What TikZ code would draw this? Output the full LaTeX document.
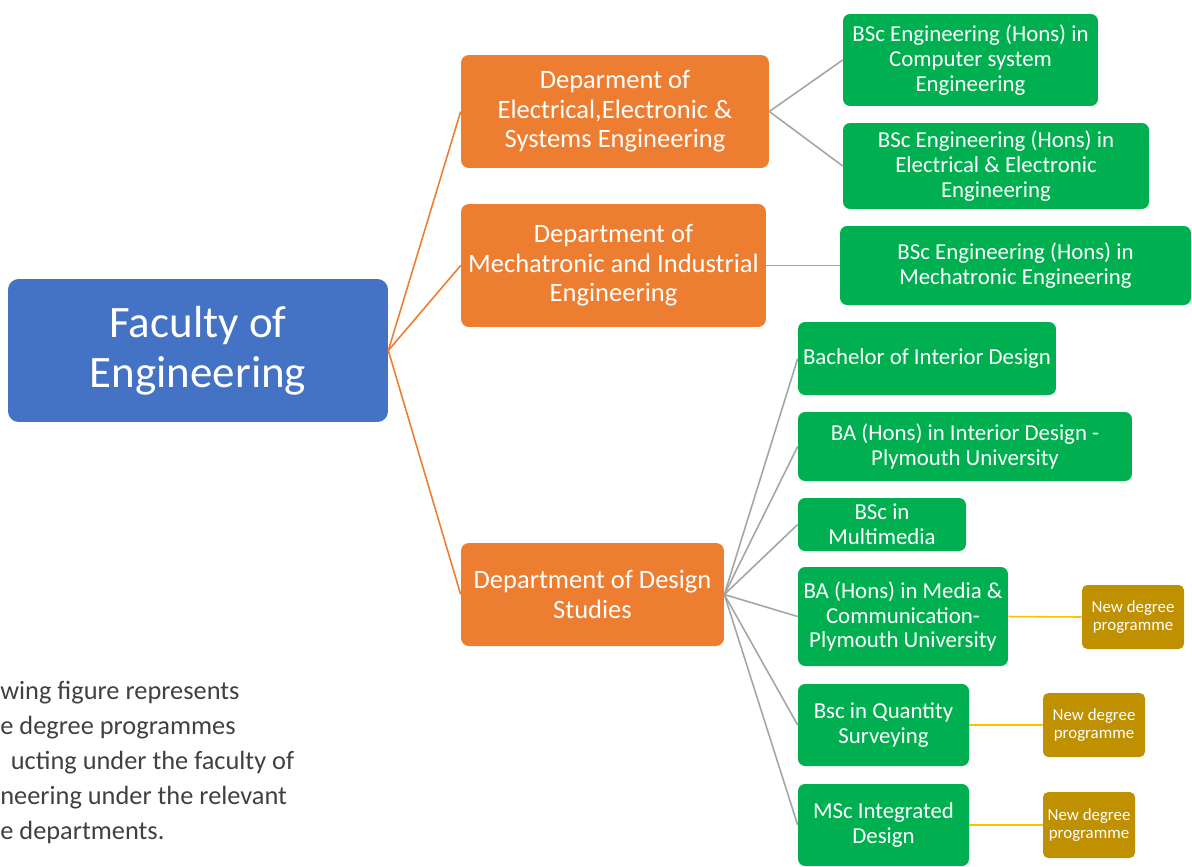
\documentclass[tikz,border=0pt]{standalone}
\usepackage{fontspec}
\setmainfont{Carlito}
\usetikzlibrary{arrows.meta}
\definecolor{FacBlue}{HTML}{4472C4}
\definecolor{DeptOrange}{HTML}{ED7D31}
\definecolor{ProgGreen}{HTML}{00B050}
\definecolor{NewGold}{HTML}{BF9000}
\definecolor{LineGold}{HTML}{FFC000}
\definecolor{LineGrey}{HTML}{A5A5A5}
\definecolor{TextGrey}{HTML}{404040}

\begin{document}
\begin{tikzpicture}[x=0.02cm, y=-0.02cm,
      every node/.append style={text=white, align=center, inner sep=1pt},
      faculty/.style={fill=FacBlue, rounded corners=6pt, minimum width=7.6cm, minimum height=2.86cm,
        font=\fontsize{25.6}{28.5}\selectfont},
      dept/.style={fill=DeptOrange, rounded corners=4.5pt, font=\fontsize{15.1}{16.8}\selectfont},
      prog/.style={fill=ProgGreen, rounded corners=4pt, font=\fontsize{13}{14.2}\selectfont},
      newprog/.style={fill=NewGold, rounded corners=3pt, minimum width=2.04cm, minimum height=1.28cm,
        font=\fontsize{9.6}{10.2}\selectfont},
      tofaculty/.style={draw=DeptOrange, line width=0.9pt},
      todept/.style={draw=LineGrey, line width=0.9pt},
      tonew/.style={draw=LineGold, line width=0.9pt}]
    \useasboundingbox (0,0) rectangle (1192,866);

    \node (FACULTY) [faculty] at (198,350.5) {Faculty of\\Engineering};

    \node (EEE) [dept, minimum width=6.16cm, minimum height=2.26cm] at (615,111.5)
      {Deparment of\\Electrical,Electronic \&\\Systems Engineering};
    \node (Mech) [dept, minimum width=6.1cm, minimum height=2.46cm] at (613.5,265.5)
      {Department of\\Mechatronic and Industrial\\Engineering};
    \node (Design) [dept, minimum width=5.26cm, minimum height=2.06cm] at (592.5,594.5)
      {Department of Design\\Studies};

    \node (CompSys) [prog, minimum width=5.1cm, minimum height=1.84cm] at (970.5,60)
      {BSc Engineering (Hons) in\\Computer system\\Engineering};
    \node (ElecEng) [prog, minimum width=6.12cm, minimum height=1.72cm] at (996,166)
      {BSc Engineering (Hons) in\\Electrical \& Electronic\\Engineering};
    \node (MechEng) [prog, minimum width=7.02cm, minimum height=1.58cm] at (1015.5,265.5)
      {BSc Engineering (Hons) in\\Mechatronic Engineering};
    \node (Interior) [prog, minimum width=5.16cm, minimum height=1.46cm] at (927,358.5)
      {Bachelor of Interior Design};
    \node (BAInterior) [prog, minimum width=6.68cm, minimum height=1.38cm] at (965,446.5)
      {BA (Hons) in Interior Design -\\Plymouth University};
    \node (Multimedia) [prog, minimum width=3.36cm, minimum height=1.06cm] at (882,524.5)
      {BSc in\\Multimedia};
    \node (Media) [prog, minimum width=4.2cm, minimum height=1.98cm] at (903,616.5)
      {BA (Hons) in Media \&\\Communication-\\Plymouth University};
    \node (Quantity) [prog, minimum width=3.42cm, minimum height=1.64cm] at (883.5,725)
      {Bsc in Quantity\\Surveying};
    \node (MScDesign) [prog, minimum width=3.42cm, minimum height=1.64cm] at (883.5,825)
      {MSc Integrated\\Design};

    \node (NewMedia) [newprog] at (1133,617) {New degree\\programme};
    \node (NewQuantity) [newprog] at (1094,725) {New degree\\programme};
    \node (NewDesign) [newprog, minimum width=1.84cm, minimum height=1.32cm] at (1089,825) {New degree\\programme};

    % faculty to departments
    \foreach \d in {EEE, Mech, Design}
      \draw [tofaculty] (FACULTY.east) -- (\d.west);
    % departments to programmes
    \draw [todept] (EEE.east) -- (CompSys.west);
    \draw [todept] (EEE.east) -- (ElecEng.west);
    \draw [todept] (Mech.east) -- (MechEng.west);
    \foreach \p in {Interior, BAInterior, Multimedia, Media, Quantity, MScDesign}
      \draw [todept] (Design.east) -- (\p.west);
    % new programmes
    \draw [tonew] (Media.east) -- (NewMedia.west);
    \draw [tonew] (Quantity.east) -- (NewQuantity.west);
    \draw [tonew] (MScDesign.east) -- (NewDesign.west);

    \node (caption) [anchor=north west, text=TextGrey, align=left, inner sep=0pt,
      font=\fontsize{15}{19.9}\selectfont] at (0,681)
      {wing figure represents\\e degree programmes\\\hspace*{6pt}ucting under the faculty of\\neering under the relevant\\e departments.};
  \end{tikzpicture}
\end{document}
